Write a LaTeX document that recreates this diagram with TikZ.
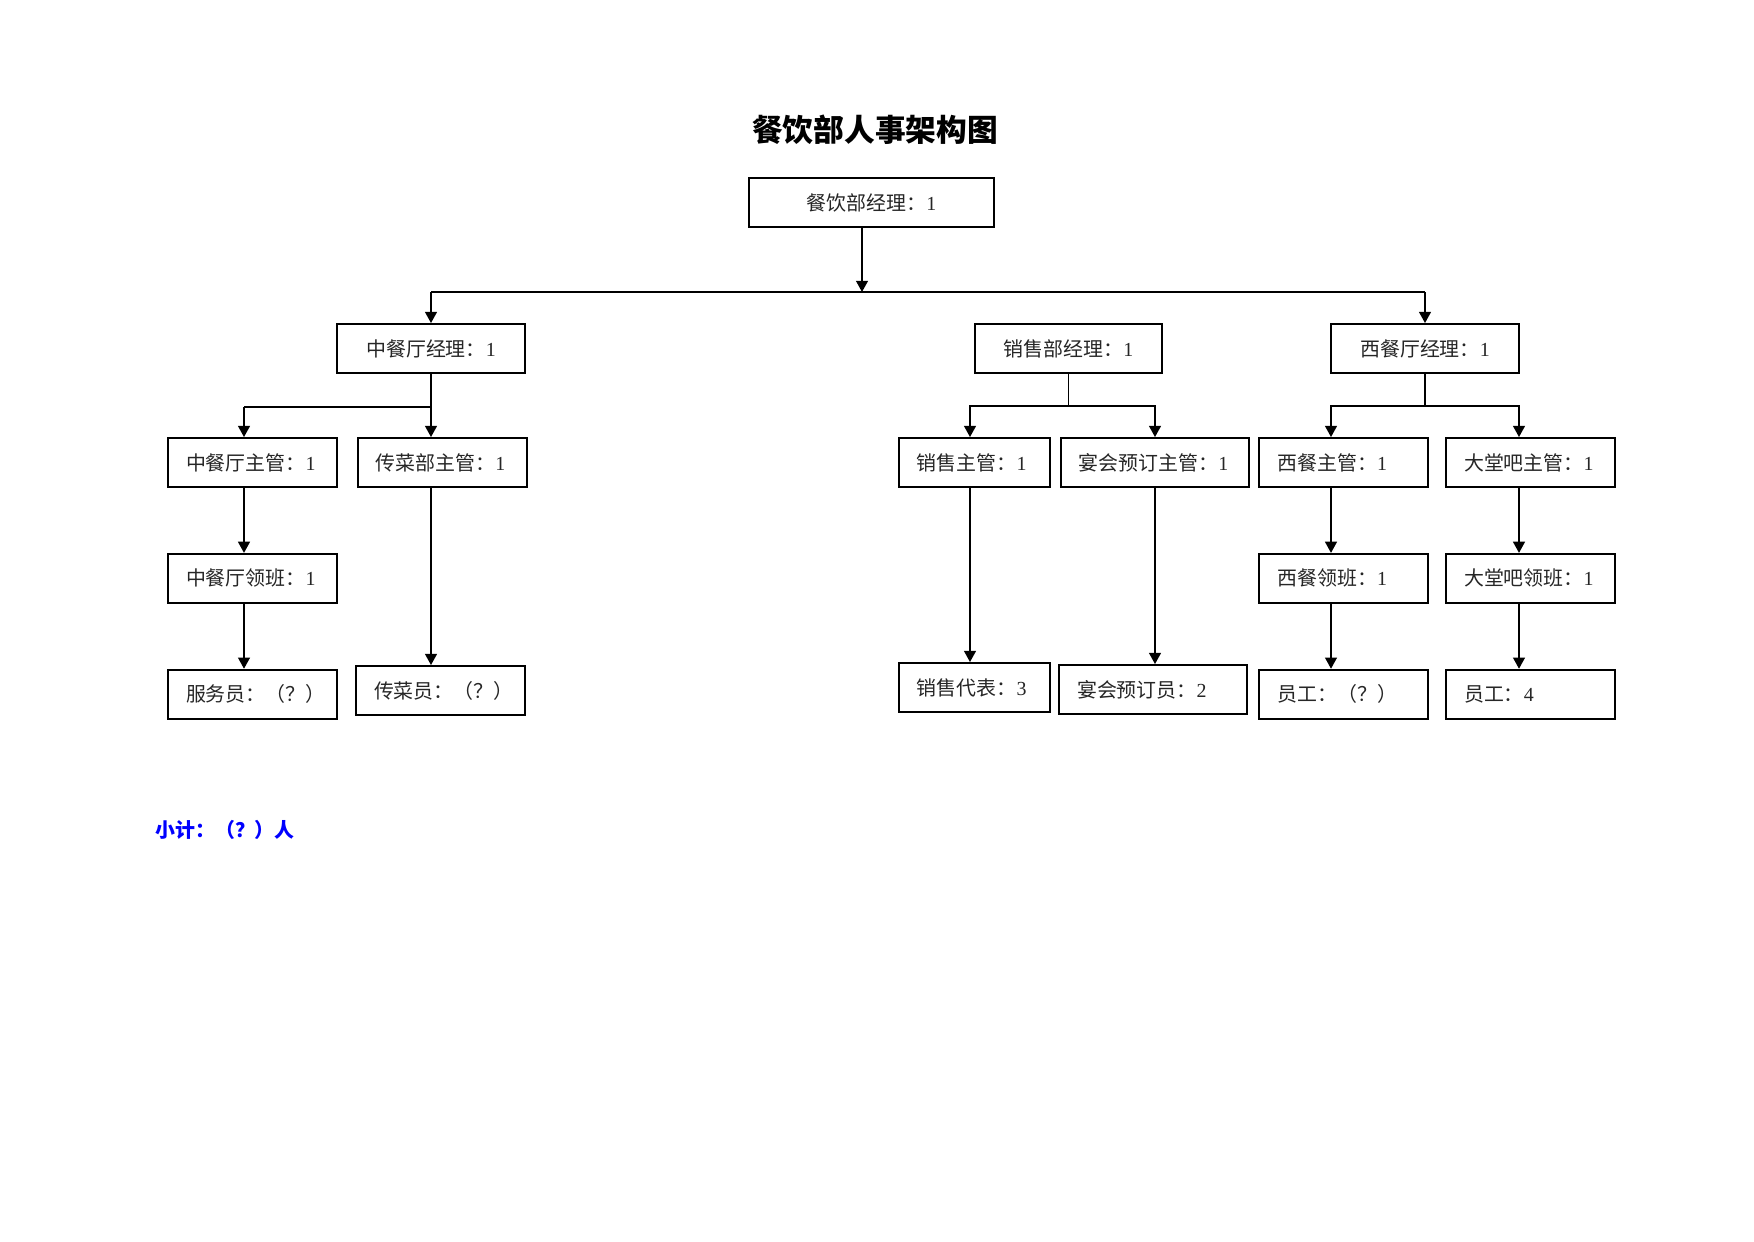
\documentclass[tikz,border=0pt]{standalone}
\usepackage{fontspec}
\setmainfont{Liberation Serif}
\newfontfamily\cjk{Noto Sans CJK SC}
\usepackage{tikz}
\usepackage{xcolor}
\usetikzlibrary{positioning, arrows.meta}

\begin{document}
\begin{tikzpicture}[x=0.16933mm, y=-0.16933mm, node distance={11mm}]
	\tikzstyle{box} = [draw, line width=0.9pt, minimum height=8.3mm, inner xsep=3.05mm, text width=22.5mm, align=left, font=\cjk\fontsize{9.6}{11}\selectfont, text=black!85]
	\tikzstyle{wide} = [text width=25.7mm]
	\tikzstyle{narrow} = [text width=19.5mm]
	\tikzstyle{head} = [box, text width=, align=center, minimum width=31.8mm]
	\tikzstyle{arr} = [line width=0.9pt, -{Triangle[width=2mm, length=1.9mm]}]
	\useasboundingbox (0,0) rectangle (1754,1241);
	% title
	\node[font=\cjk\bfseries\fontsize{14.8}{17}\selectfont] (0) at (875,130) {餐饮部人事架构图};
	% managers
	\node[head, minimum width=41.5mm] (1) at (871.5,202.5) {餐饮部经理：{\rmfamily 1}};
	\node[head] (2) at (431,348.5) {中餐厅经理：{\rmfamily 1}};
	\node[head] (3) at (1068.5,348.5) {销售部经理：{\rmfamily 1}};
	\node[head] (4) at (1425,348.5) {西餐厅经理：{\rmfamily 1}};
	% supervisors
	\node[box] (5) at (252.5,462.5) {中餐厅主管：{\rmfamily 1}};
	\node[box] (6) [right=3.2mm of 5] {传菜部主管：{\rmfamily 1}};
	\node[box, narrow] (7) at (974.5,462.5) {销售主管：{\rmfamily 1}};
	\node[box, wide] (8) [right=1.5mm of 7] {宴会预订主管：{\rmfamily 1}};
	\node[box] (9) [right=1.5mm of 8] {西餐主管：{\rmfamily 1}};
	\node[box] (10) [right=2.7mm of 9] {大堂吧主管：{\rmfamily 1}};
	% foremen
	\node[box] (11) [below=of 5] {中餐厅领班：{\rmfamily 1}};
	\node[box] (12) [below=of 9] {西餐领班：{\rmfamily 1}};
	\node[box] (13) [below=of 10] {大堂吧领班：{\rmfamily 1}};
	% staff
	\node[box] (14) [below=of 11] {服务员：（？）};
	\node[box] (15) at (440.5,690.5) {传菜员：（？）};
	\node[box, narrow] (16) at (974.5,687.5) {销售代表：{\rmfamily 3}};
	\node[box, wide] (17) at (1153,689.5) {宴会预订员：{\rmfamily 2}};
	\node[box] (18) [below=of 12] {员工：（？）};
	\node[box] (19) [below=of 13] {员工：{\rmfamily 4}};
	% blue note
	\node[anchor=west, text=blue, font=\cjk\bfseries\fontsize{9.6}{11}\selectfont] (20) at (148,830) {小计：（？）人};
	% joints
	\coordinate (a1) at (862,292);
	\coordinate (a2) at (244,407);
	\coordinate (a3) at (970,406);
	\coordinate (b3) at (1155,406);
	\coordinate (a4) at (1331,406);
	\coordinate (b4) at (1519,406);
	% top level
	\draw[arr] (1.south -| a1) -- (a1);
	\draw[line width=0.5pt] (2.north |- a1) -- (4.north |- a1);
	\draw[arr] (2.north |- a1) -- (2.north);
	\draw[arr] (4.north |- a1) -- (4.north);
	% chinese restaurant
	\draw[line width=0.5pt] (2.south |- a2) -- (a2);
	\draw[arr] (a2) -- (a2 |- 5.north);
	\draw[arr] (2.south) -- (2.south |- 6.north);
	\draw[arr] (a2 |- 5.south) -- (a2 |- 11.north);
	\draw[arr] (a2 |- 11.south) -- (a2 |- 14.north);
	\draw[arr] (2.south |- 6.south) -- (2.south |- 15.north);
	% sales
	\draw[line width=0.5pt] (3.south) -- (3.south |- a3);
	\draw[arr] (b3) -- (a3) -- (a3 |- 7.north);
	\draw[arr] (a3) -- (b3) -- (b3 |- 8.north);
	\draw[arr] (a3 |- 7.south) -- (a3 |- 16.north);
	\draw[arr] (b3 |- 8.south) -- (b3 |- 17.north);
	% western restaurant
	\draw[line width=0.9pt] (4.south) -- (4.south |- a4);
	\draw[arr] (b4) -- (a4) -- (a4 |- 9.north);
	\draw[arr] (a4) -- (b4) -- (b4 |- 10.north);
	\draw[arr] (a4 |- 9.south) -- (a4 |- 12.north);
	\draw[arr] (a4 |- 12.south) -- (a4 |- 18.north);
	\draw[arr] (b4 |- 10.south) -- (b4 |- 13.north);
	\draw[arr] (b4 |- 13.south) -- (b4 |- 19.north);
\end{tikzpicture}
\end{document}
